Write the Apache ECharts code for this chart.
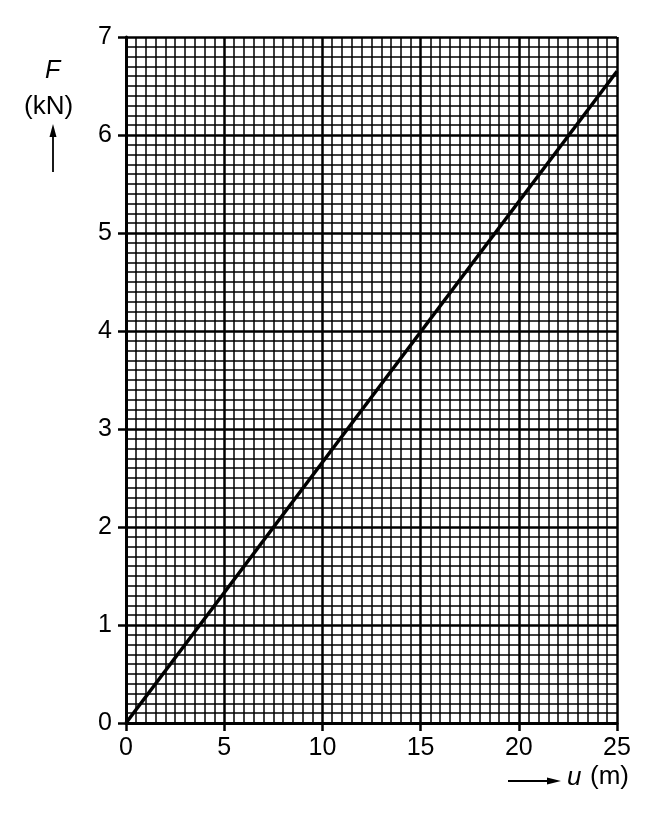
<!DOCTYPE html>
<html>
<head>
<meta charset="utf-8">
<script src="https://cdn.jsdelivr.net/npm/echarts@6/dist/echarts.min.js"></script>
<style>
  html, body { margin: 0; padding: 0; background: #fff; }
  #chart_1 { width: 658px; height: 818px; }
</style>
</head>
<body>
<div id="chart_1"></div>
<script>
// u (m) against F (kN)
var uValues = [0, 25];
var fValues = [0, 6.65];
var xTicks = [0, 5, 10, 15, 20, 25];
var yTicks = [0, 1, 2, 3, 4, 5, 6, 7];

var font = '"Liberation Sans", Arial, sans-serif';
var myChart = echarts.init(document.getElementById('chart_1'));

var option = {
  animation: false,
  backgroundColor: '#fff',
  grid: { left: 126, right: 41, top: 37, bottom: 95, containLabel: false },
  xAxis: {
    type: 'value',
    min: xTicks[0],
    max: xTicks[xTicks.length - 1],
    interval: 5,
    axisLine: { show: true, onZero: false, lineStyle: { color: '#000', width: 3 } },
    axisTick: { show: true, length: 8, lineStyle: { color: '#000', width: 2.5 } },
    axisLabel: { margin: 13, color: '#000', fontSize: 25, fontFamily: font },
    splitLine: { show: true, lineStyle: { color: '#000', width: 2.5 } },
    minorTick: { show: false, splitNumber: 10 },
    minorSplitLine: { show: true, lineStyle: { color: '#000', width: 1.5 } }
  },
  yAxis: {
    type: 'value',
    min: yTicks[0],
    max: yTicks[yTicks.length - 1],
    interval: 1,
    axisLine: { show: true, onZero: false, lineStyle: { color: '#000', width: 3 } },
    axisTick: { show: true, length: 8, lineStyle: { color: '#000', width: 2.5 } },
    axisLabel: { margin: 14, color: '#000', fontSize: 25, fontFamily: font },
    splitLine: { show: true, lineStyle: { color: '#000', width: 2.5 } },
    minorTick: { show: false, splitNumber: 10 },
    minorSplitLine: { show: true, lineStyle: { color: '#000', width: 1.5 } }
  },
  graphic: [
    { type: 'text', left: 45, top: 59, style: { text: 'F', fontSize: 25, fontStyle: 'italic', fontFamily: font, fill: '#000' } },
    { type: 'text', left: 24, top: 94, style: { text: '(kN)', fontSize: 26, fontFamily: font, fill: '#000' } },
    { type: 'line', shape: { x1: 53, y1: 172, x2: 53, y2: 132 }, style: { stroke: '#000', lineWidth: 1.8 } },
    { type: 'polygon', shape: { points: [[53, 124], [49.5, 137], [56.5, 137]] }, style: { fill: '#000' } },
    { type: 'line', shape: { x1: 508, y1: 781, x2: 550, y2: 781 }, style: { stroke: '#000', lineWidth: 1.8 } },
    { type: 'polygon', shape: { points: [[561, 781], [547, 777.5], [547, 784.5]] }, style: { fill: '#000' } },
    { type: 'text', left: 567, top: 765, style: { text: 'u', fontSize: 26, fontStyle: 'italic', fontFamily: font, fill: '#000' } },
    { type: 'text', left: 590, top: 764, style: { text: '(m)', fontSize: 26, fontFamily: font, fill: '#000' } }
  ],
  series: [{
    type: 'line',
    data: uValues.map(function (u, i) { return [u, fValues[i]]; }),
    showSymbol: false,
    lineStyle: { color: '#000', width: 3.5 },
    silent: true
  }]
};
myChart.setOption(option);
</script>
</body>
</html>
